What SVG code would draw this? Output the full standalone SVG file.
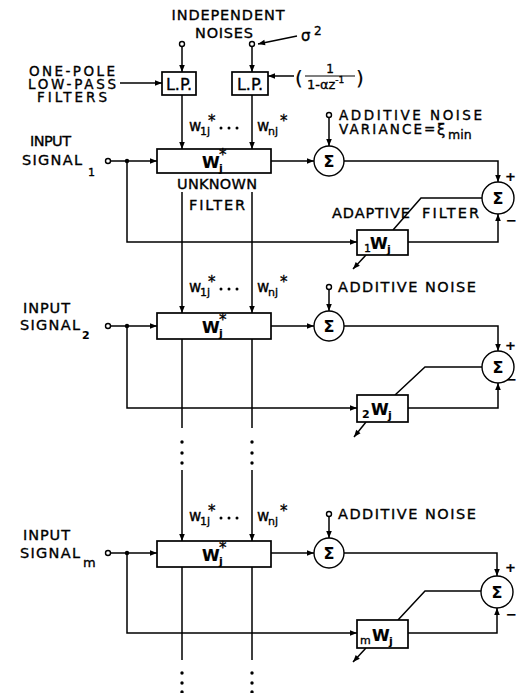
<svg xmlns="http://www.w3.org/2000/svg" width="516" height="693" viewBox="0 0 516 693">
<defs>
<marker id="ah" viewBox="0 0 10 10" refX="10" refY="5" markerWidth="8" markerHeight="7" markerUnits="userSpaceOnUse" orient="auto"><path d="M0,1 L10,5 L0,9 z" fill="#000"/></marker>
<style>
.ln{stroke:#000;stroke-width:1.5;fill:none}
.bx{fill:#fff;stroke:#000;stroke-width:1.7}
.tc{fill:#fff;stroke:#000;stroke-width:1.4}
.jd{fill:#000}
text{font-family:"DejaVu Sans","Liberation Sans",sans-serif;fill:#000;stroke:#000;stroke-width:0.35}
.t{font-size:14.5px}
.tt{font-size:13.5px}
.s{font-size:11px}
.w{font-size:15px}
.W{font-size:16px;font-weight:bold;stroke-width:0.2}
.sig{font-size:16px;font-weight:bold;stroke-width:0.1}
.st{font-size:13px;font-weight:bold;stroke-width:0.2}
.jb{font-size:11px;font-weight:bold;stroke-width:0.1}
.lp{font-size:16px}
.par{font-size:20px;stroke-width:0.2}
</style>
</defs>
<rect width="516" height="693" fill="#fff"/>

<g id="connectors">
<!-- top noise inputs -->
<path class="ln" d="M297,36 L258,44" marker-end="url(#ah)"/>
<path class="ln" d="M182,46.5 V72" marker-end="url(#ah)"/>
<path class="ln" d="M252,46.5 V72" marker-end="url(#ah)"/>
<path class="ln" d="M120,83 H162" marker-end="url(#ah)"/>
<path class="ln" d="M294,76 H268" marker-end="url(#ah)"/>
<path class="ln" d="M182,95 V149" marker-end="url(#ah)"/>
<path class="ln" d="M252,95 V149" marker-end="url(#ah)"/>
<!-- stage 1 -->
<path class="ln" d="M110.5,161 H157" marker-end="url(#ah)"/>
<path class="ln" d="M271,161 H314" marker-end="url(#ah)"/>
<path class="ln" d="M329,117.5 V146" marker-end="url(#ah)"/>
<path class="ln" d="M344,161 H498 V182" marker-end="url(#ah)"/>
<path class="ln" d="M127,161 V242 H357" marker-end="url(#ah)"/>
<path class="ln" d="M408,242 H498 V214" marker-end="url(#ah)"/>
<path class="ln" d="M482,198 H421 L393,230"/>
<path class="ln" d="M366,255 L353,269" marker-end="url(#ah)"/>
<path class="ln" d="M182,192 V313" marker-end="url(#ah)"/>
<path class="ln" d="M252,192 V313" marker-end="url(#ah)"/>
<!-- stage 2 -->
<path class="ln" d="M110.5,326 H157" marker-end="url(#ah)"/>
<path class="ln" d="M271,326 H314" marker-end="url(#ah)"/>
<path class="ln" d="M329,289.5 V311" marker-end="url(#ah)"/>
<path class="ln" d="M344,326 H498 V351" marker-end="url(#ah)"/>
<path class="ln" d="M127,326 V408 H357" marker-end="url(#ah)"/>
<path class="ln" d="M408,408 H498 V383" marker-end="url(#ah)"/>
<path class="ln" d="M483,367 H425 L395,395"/>
<path class="ln" d="M366,422 L354,437" marker-end="url(#ah)"/>
<path class="ln" d="M182,339 V428 M252,339 V428"/>
<path class="ln" d="M182,470 V541" marker-end="url(#ah)"/>
<path class="ln" d="M252,470 V541" marker-end="url(#ah)"/>
<!-- stage 3 -->
<path class="ln" d="M110.5,553 H157" marker-end="url(#ah)"/>
<path class="ln" d="M271,553 H314" marker-end="url(#ah)"/>
<path class="ln" d="M329,516.5 V538" marker-end="url(#ah)"/>
<path class="ln" d="M344,553 H497 V576" marker-end="url(#ah)"/>
<path class="ln" d="M127,553 V633 H357" marker-end="url(#ah)"/>
<path class="ln" d="M408,633 H497 V608" marker-end="url(#ah)"/>
<path class="ln" d="M482,591 H425 L398,620"/>
<path class="ln" d="M366,648 L353,662" marker-end="url(#ah)"/>
<path class="ln" d="M182,567 V660 M252,567 V660"/>
<!-- continuation dots -->
<g class="jd">
<circle cx="182" cy="442" r="1.7"/><circle cx="182" cy="453" r="1.7"/><circle cx="182" cy="463" r="1.7"/>
<circle cx="252" cy="442" r="1.7"/><circle cx="252" cy="453" r="1.7"/><circle cx="252" cy="463" r="1.7"/>
<circle cx="182" cy="673" r="1.7"/><circle cx="182" cy="683" r="1.7"/><circle cx="182" cy="692" r="1.7"/>
<circle cx="252" cy="673" r="1.7"/><circle cx="252" cy="683" r="1.7"/><circle cx="252" cy="692" r="1.7"/>
</g>
</g>

<g id="noise-sources">
<text class="t" x="228" y="20" text-anchor="middle" textLength="113" lengthAdjust="spacing">INDEPENDENT</text>
<text class="t" x="224" y="38" text-anchor="middle" textLength="58" lengthAdjust="spacing">NOISES</text>
<text class="w" x="301" y="41">σ</text><text style="font-size:12px" x="314" y="35">2</text>
<circle class="tc" cx="182" cy="44" r="2.5"/>
<circle class="tc" cx="252" cy="44" r="2.5"/>
</g>

<g id="lp-label">
<text class="tt" x="72" y="76" text-anchor="middle" textLength="86" lengthAdjust="spacing">ONE-POLE</text>
<text class="tt" x="72" y="89" text-anchor="middle" textLength="88" lengthAdjust="spacing">LOW-PASS</text>
<text class="tt" x="72" y="102" text-anchor="middle" textLength="70" lengthAdjust="spacing">FILTERS</text>
</g>

<g id="lp1"><rect class="bx" x="162" y="72" width="34" height="23"/><text class="lp" x="179" y="90" text-anchor="middle">L.P.</text></g>
<g id="lp2"><rect class="bx" x="232" y="72" width="36" height="23"/><text class="lp" x="250" y="90" text-anchor="middle">L.P.</text></g>

<g id="lp-transfer">
<text class="par" x="295" y="85">(</text>
<text style="font-size:12px" x="330" y="73" text-anchor="middle">1</text>
<line x1="305" y1="76" x2="355" y2="76" stroke="#000" stroke-width="1.2"/>
<text style="font-size:13px" x="307" y="89">1-αz<tspan style="font-size:9px" dy="-6">-1</tspan></text>
<text class="par" x="356" y="85">)</text>
</g>

<!-- weight labels -->
<g id="weights1">
<text class="w" x="189" y="131">w</text><text class="s" x="200" y="135">1j</text><text class="w" x="208" y="126">*</text>
<circle class="jd" cx="221" cy="128" r="1.5"/><circle class="jd" cx="229" cy="128" r="1.5"/><circle class="jd" cx="237" cy="128" r="1.5"/>
<text class="w" x="257" y="131">w</text><text class="s" x="268" y="135">nj</text><text class="w" x="280" y="126">*</text>
</g>
<g id="weights2">
<text class="w" x="189" y="292">w</text><text class="s" x="200" y="296">1j</text><text class="w" x="208" y="287">*</text>
<circle class="jd" cx="221" cy="289" r="1.5"/><circle class="jd" cx="229" cy="289" r="1.5"/><circle class="jd" cx="237" cy="289" r="1.5"/>
<text class="w" x="257" y="292">w</text><text class="s" x="268" y="296">nj</text><text class="w" x="280" y="287">*</text>
</g>
<g id="weights3">
<text class="w" x="189" y="521">w</text><text class="s" x="200" y="525">1j</text><text class="w" x="208" y="516">*</text>
<circle class="jd" cx="221" cy="518" r="1.5"/><circle class="jd" cx="229" cy="518" r="1.5"/><circle class="jd" cx="237" cy="518" r="1.5"/>
<text class="w" x="257" y="521">w</text><text class="s" x="268" y="525">nj</text><text class="w" x="280" y="516">*</text>
</g>

<!-- stage 1 -->
<g id="input1">
<text class="t" x="30" y="146" textLength="41" lengthAdjust="spacing">INPUT</text>
<text class="t" x="22" y="165" textLength="60" lengthAdjust="spacing">SIGNAL</text><text class="s" x="88" y="176">1</text>
<circle class="tc" cx="108" cy="161" r="2.5"/><circle class="jd" cx="127" cy="161" r="2.2"/>
</g>
<g id="unknown1">
<rect class="bx" x="157" y="149" width="114" height="24"/>
<text class="W" x="202" y="168">W</text><text class="jb" x="219" y="172">j</text><text class="w" x="219" y="160">*</text>
<text class="t" x="217" y="189" text-anchor="middle" textLength="80" lengthAdjust="spacing">UNKNOWN</text>
<text class="t" x="217" y="210" text-anchor="middle" textLength="56" lengthAdjust="spacing">FILTER</text>
</g>
<g id="noise1">
<circle class="tc" cx="329" cy="115" r="2.5"/>
<text class="tt" x="339" y="120" textLength="143" lengthAdjust="spacing">ADDITIVE NOISE</text>
<text class="tt" x="339" y="134" textLength="83" lengthAdjust="spacing">VARIANCE</text>
<text class="tt" x="424" y="134">=</text><text class="w" x="437" y="135">ξ</text><text style="font-size:12.5px" x="448" y="139">min</text>
</g>
<g id="sum1a"><circle class="tc" cx="329" cy="161" r="15"/><text class="sig" x="329" y="167" text-anchor="middle">Σ</text></g>
<g id="sum1b"><circle class="tc" cx="498" cy="198" r="16"/><text class="sig" x="498" y="204" text-anchor="middle">Σ</text>
<text class="st" x="505" y="181">+</text><text class="st" x="506" y="225">−</text></g>
<g id="adaptive1">
<rect class="bx" x="357" y="230" width="51" height="25"/>
<text class="s" x="364" y="252">1</text><text class="W" x="370" y="249">W</text><text class="jb" x="387" y="253">j</text>
<text class="t" x="332" y="218" textLength="78" lengthAdjust="spacing">ADAPTIVE</text>
<text class="t" x="422" y="218" textLength="57" lengthAdjust="spacing">FILTER</text>
</g>

<!-- stage 2 -->
<g id="input2">
<text class="t" x="23" y="313" textLength="47" lengthAdjust="spacing">INPUT</text>
<text class="t" x="20" y="330" textLength="60" lengthAdjust="spacing">SIGNAL</text><text class="jb" x="82" y="339">2</text>
<circle class="tc" cx="108" cy="326" r="2.5"/><circle class="jd" cx="127" cy="326" r="2.2"/>
</g>
<g id="unknown2">
<rect class="bx" x="157" y="313" width="114" height="26"/>
<text class="W" x="202" y="333">W</text><text class="jb" x="219" y="337">j</text><text class="w" x="219" y="325">*</text>
</g>
<g id="noise2">
<circle class="tc" cx="329" cy="287" r="2.5"/>
<text class="t" x="338" y="292" textLength="138" lengthAdjust="spacing">ADDITIVE NOISE</text>
</g>
<g id="sum2a"><circle class="tc" cx="329" cy="326" r="15"/><text class="sig" x="329" y="332" text-anchor="middle">Σ</text></g>
<g id="sum2b"><circle class="tc" cx="498" cy="367" r="16"/><text class="sig" x="498" y="373" text-anchor="middle">Σ</text>
<text class="st" x="505" y="350">+</text><text class="st" x="506" y="384">−</text></g>
<g id="adaptive2">
<rect class="bx" x="357" y="395" width="51" height="27"/>
<text class="jb" x="362" y="418">2</text><text class="W" x="371" y="415">W</text><text class="jb" x="388" y="419">j</text>
</g>

<!-- stage 3 -->
<g id="input3">
<text class="t" x="23" y="540" textLength="47" lengthAdjust="spacing">INPUT</text>
<text class="t" x="20" y="558" textLength="60" lengthAdjust="spacing">SIGNAL</text><text style="font-size:13px" x="83" y="567">m</text>
<circle class="tc" cx="108" cy="553" r="2.5"/><circle class="jd" cx="127" cy="553" r="2.2"/>
</g>
<g id="unknown3">
<rect class="bx" x="157" y="541" width="114" height="26"/>
<text class="W" x="202" y="561">W</text><text class="jb" x="219" y="565">j</text><text class="w" x="219" y="553">*</text>
</g>
<g id="noise3">
<circle class="tc" cx="329" cy="514" r="2.5"/>
<text class="t" x="338" y="519" textLength="138" lengthAdjust="spacing">ADDITIVE NOISE</text>
</g>
<g id="sum3a"><circle class="tc" cx="329" cy="553" r="15"/><text class="sig" x="329" y="559" text-anchor="middle">Σ</text></g>
<g id="sum3b"><circle class="tc" cx="497" cy="592" r="16"/><text class="sig" x="497" y="598" text-anchor="middle">Σ</text>
<text class="st" x="505" y="572">+</text><text class="st" x="506" y="619">−</text></g>
<g id="adaptive3">
<rect class="bx" x="357" y="620" width="51" height="28"/>
<text class="s" x="360" y="644">m</text><text class="W" x="372" y="641">W</text><text class="jb" x="389" y="645">j</text>
</g>
</svg>
